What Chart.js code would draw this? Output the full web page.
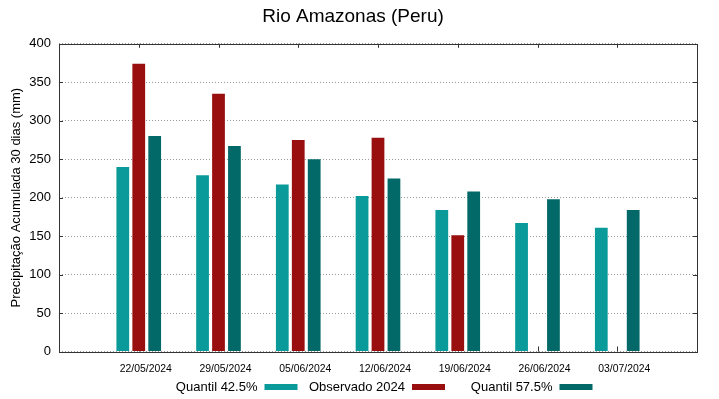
<!DOCTYPE html>
<html lang="pt">
<head>
  <meta charset="UTF-8" />
  <title>Rio Amazonas (Peru)</title>
  <style>
    body { margin: 0; background: #fff; }
    canvas { display: block; }
  </style>
</head>
<body>
  <canvas id="grafico" width="719" height="399"></canvas>

  <script src="https://cdn.jsdelivr.net/npm/chart.js"></script>
  <script>
    // dados
    const datas = ['22/05/2024', '29/05/2024', '05/06/2024', '12/06/2024', '19/06/2024', '26/06/2024', '03/07/2024'];
    const quantil425 = [240, 229, 217, 202, 184, 167, 161];
    const observado = [374, 335, 275, 278, 151, null, null];
    const quantil575 = [280, 267, 250, 225, 208, 198, 184];
    const yTicks = [0, 50, 100, 150, 200, 250, 300, 350, 400];

    const series = [
      { label: 'Quantil 42.5%', valores: quantil425, cor: '#0a9a9a' },
      { label: 'Observado 2024', valores: observado, cor: '#990f0f' },
      { label: 'Quantil 57.5%', valores: quantil575, cor: '#026868' }
    ];

    const fonte = "'Liberation Sans', Arial, sans-serif";

    // moldura + marcas internas, estilo gnuplot
    const molduraPlugin = {
      id: 'moldura',
      beforeDatasetsDraw(chart) {
        const { ctx, chartArea: a, scales } = chart;
        ctx.save();
        ctx.strokeStyle = '#333';
        ctx.lineWidth = 1;
        ctx.beginPath();
        datas.forEach((d, i) => {
          const x = Math.round(scales.x.getPixelForValue(i)) + 0.5;
          ctx.moveTo(x, a.bottom); ctx.lineTo(x, a.bottom - 5);
          ctx.moveTo(x, a.top); ctx.lineTo(x, a.top + 4);
        });
        yTicks.forEach(v => {
          const y = Math.round(scales.y.getPixelForValue(v)) + 0.5;
          ctx.moveTo(a.left, y); ctx.lineTo(a.left + 4, y);
          ctx.moveTo(a.right, y); ctx.lineTo(a.right - 4, y);
        });
        ctx.stroke();
        ctx.restore();
      },
      afterDatasetsDraw(chart) {
        const { ctx, chartArea: a } = chart;
        ctx.save();
        ctx.strokeStyle = '#333';
        ctx.lineWidth = 1;
        ctx.strokeRect(Math.round(a.left) + 0.5, Math.round(a.top) + 0.5,
          Math.round(a.right - a.left), Math.round(a.bottom - a.top));
        ctx.restore();
      }
    };

    // legenda: texto alinhado à direita, amostra depois
    const legendaPlugin = {
      id: 'legendaGnuplot',
      afterDraw(chart) {
        const { ctx, chartArea: a } = chart;
        const centro = (a.left + a.right) / 2 + 27;
        const coluna = 147.5;
        const y = 387;
        ctx.save();
        ctx.font = '13px ' + fonte;
        ctx.textBaseline = 'middle';
        ctx.textAlign = 'right';
        series.forEach((s, i) => {
          const xTexto = centro + (i - 1) * coluna;
          ctx.fillStyle = '#000';
          ctx.fillText(s.label, xTexto, y);
          ctx.fillStyle = s.cor;
          ctx.fillRect(xTexto + 7, y - 3, 33, 6);
        });
        ctx.restore();
      }
    };

    new Chart(document.getElementById('grafico'), {
      type: 'bar',
      data: {
        datasets: series.map(s => ({
          label: s.label,
          data: s.valores.map((v, i) => ({ x: i, y: v })),
          backgroundColor: s.cor,
          borderWidth: 0,
          categoryPercentage: 0.6,
          barPercentage: 0.8
        }))
      },
      options: {
        responsive: false,
        animation: false,
        layout: { padding: { left: 9, right: 22, top: 0, bottom: 13 } },
        plugins: {
          legend: { display: false },
          tooltip: { enabled: false },
          title: {
            display: true,
            text: 'Rio Amazonas (Peru)',
            color: '#000',
            font: { family: fonte, size: 19, weight: 'normal' },
            padding: { top: 5, bottom: 16 }
          }
        },
        scales: {
          x: {
            type: 'linear',
            min: -1,
            max: 7,
            offset: false,
            grid: { display: false, drawTicks: false },
            border: { display: false },
            afterBuildTicks: axis => {
              axis.ticks = datas.map((d, i) => ({ value: i }));
            },
            ticks: {
              autoSkip: false,
              maxRotation: 0,
              padding: 11,
              labelOffset: 7,
              color: '#000',
              font: { family: fonte, size: 10.4 },
              callback: v => datas[v] || ''
            }
          },
          y: {
            min: 0,
            max: 400,
            afterBuildTicks: axis => {
              axis.ticks = yTicks.map(v => ({ value: v }));
            },
            afterFit: axis => { axis.width = 50; },
            grid: {
              color: '#999',
              lineWidth: 1,
              drawTicks: false
            },
            border: { display: false, dash: [1, 2] },
            ticks: {
              padding: 8,
              color: '#000',
              font: { family: fonte, size: 13 }
            },
            title: {
              display: true,
              text: 'Precipitação Acumulada 30 dias (mm)',
              color: '#000',
              font: { family: fonte, size: 13 },
              padding: { top: 0, bottom: 0 }
            }
          }
        }
      },
      plugins: [molduraPlugin, legendaPlugin]
    });
  </script>
</body>
</html>
